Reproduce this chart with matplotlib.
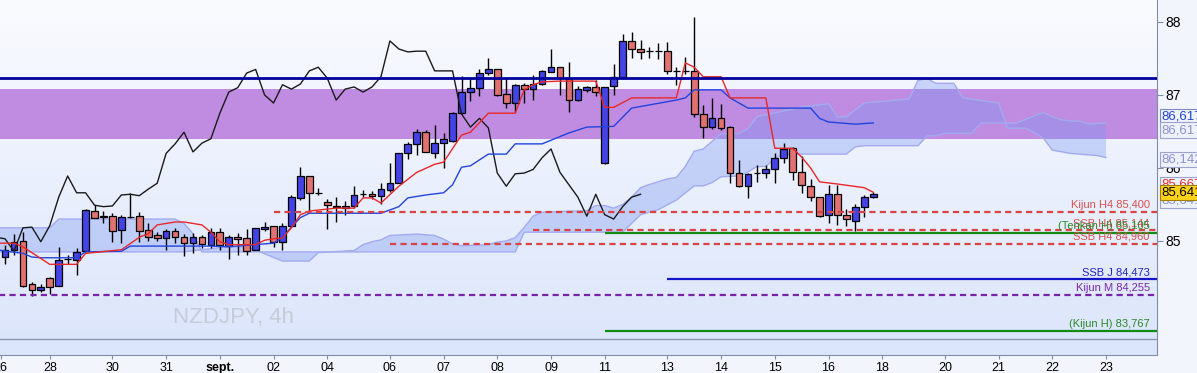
import numpy as np
import matplotlib.pyplot as plt
from matplotlib.transforms import blended_transform_factory

plt.rcParams['font.family'] = ['Liberation Sans', 'DejaVu Sans']

# NZDJPY 4h candles, bar 0 = 26 Aug, last bar = 16 Sept close
opens = [84.78, 84.88, 85.00, 84.41, 84.33, 84.49, 84.38, 84.75, 84.74, 84.86,
         85.41, 85.33, 85.34, 85.15, 85.33, 85.34, 85.15, 85.08, 85.04, 85.14,
         85.05, 84.97, 85.05, 84.95, 85.12, 84.93, 85.05, 85.04, 84.88, 85.16,
         85.21, 84.99, 85.21, 85.59, 85.89, 85.66, 85.53, 85.48, 85.45, 85.48,
         85.64, 85.64, 85.62, 85.70, 85.79, 86.20, 86.33, 86.49, 86.21, 86.34,
         86.37, 86.75, 87.04, 87.10, 87.30, 87.35, 87.01, 86.89, 87.14, 87.08,
         87.15, 87.31, 87.38, 87.23, 86.93, 87.07, 87.11, 86.07, 87.12, 87.25,
         87.74, 87.63, 87.60, 87.60, 87.60, 87.33, 87.33, 87.33, 86.74, 86.56,
         86.68, 86.56, 85.93, 85.75, 85.93, 85.93, 85.98, 86.14, 86.27, 85.94,
         85.75, 85.60, 85.36, 85.64, 85.36, 85.27, 85.47, 85.60]
highs = [84.95, 85.10, 85.12, 84.44, 84.41, 84.51, 84.92, 84.81, 84.90, 85.44,
         85.49, 85.41, 85.38, 85.36, 85.66, 85.40, 85.25, 85.12, 85.16, 85.18,
         85.10, 85.11, 85.08, 85.18, 85.18, 85.08, 85.11, 85.16, 85.18, 85.26,
         85.21, 85.25, 85.63, 86.01, 85.89, 85.73, 85.57, 85.60, 85.55, 85.75,
         85.70, 85.68, 85.79, 86.07, 86.20, 86.36, 86.53, 86.52, 86.59, 86.48,
         86.77, 87.26, 87.23, 87.35, 87.51, 87.35, 87.23, 87.15, 87.16, 87.27,
         87.34, 87.63, 87.38, 87.45, 87.12, 87.12, 87.20, 87.11, 87.42, 87.83,
         87.86, 87.75, 87.66, 87.71, 87.72, 87.38, 87.52, 88.07, 86.86, 86.96,
         86.88, 86.57, 86.11, 85.93, 86.04, 86.04, 86.20, 86.34, 86.29, 86.16,
         85.85, 85.60, 85.77, 85.77, 85.44, 85.51, 85.63, 85.67]
lows = [84.68, 84.81, 84.37, 84.25, 84.30, 84.27, 84.38, 84.68, 84.53, 84.86,
        85.32, 85.25, 84.99, 84.97, 85.32, 84.99, 85.00, 85.00, 84.88, 84.97,
        84.79, 84.83, 84.90, 84.90, 84.88, 84.75, 84.81, 84.81, 84.88, 85.14,
        84.92, 84.88, 85.21, 85.56, 85.40, 85.63, 85.16, 85.26, 85.36, 85.45,
        85.60, 85.57, 85.51, 85.67, 85.79, 86.12, 86.18, 86.22, 86.14, 86.00,
        86.36, 86.74, 86.92, 86.98, 87.27, 86.98, 86.82, 86.77, 86.89, 86.93,
        87.14, 87.31, 87.00, 86.77, 86.92, 87.04, 86.98, 86.05, 87.00, 87.23,
        87.51, 87.49, 87.51, 87.49, 87.29, 87.14, 87.29, 86.70, 86.41, 86.53,
        86.52, 85.79, 85.74, 85.59, 85.81, 85.86, 85.79, 86.07, 85.84, 85.66,
        85.55, 85.33, 85.25, 85.22, 85.21, 85.14, 85.33, 85.59]
closes = [84.88, 84.99, 84.38, 84.33, 84.37, 84.37, 84.74, 84.75, 84.85, 85.43,
          85.32, 85.34, 85.14, 85.33, 85.33, 85.14, 85.05, 85.04, 85.14, 85.05,
          84.97, 85.05, 84.96, 85.12, 84.95, 85.05, 85.03, 84.86, 85.18, 85.19,
          84.99, 85.21, 85.60, 85.89, 85.66, 85.66, 85.49, 85.47, 85.48, 85.63,
          85.64, 85.62, 85.71, 85.79, 86.20, 86.33, 86.49, 86.22, 86.34, 86.40,
          86.75, 87.04, 87.10, 87.30, 87.35, 87.00, 86.89, 87.14, 87.08, 87.15,
          87.33, 87.38, 87.23, 86.93, 87.08, 87.11, 87.04, 87.11, 87.25, 87.74,
          87.63, 87.59, 87.60, 87.60, 87.33, 87.33, 87.33, 86.74, 86.56, 86.68,
          86.55, 85.93, 85.75, 85.92, 85.93, 85.98, 86.14, 86.26, 85.94, 85.77,
          85.60, 85.34, 85.64, 85.36, 85.30, 85.47, 85.60, 85.64]

tenkan_bar = [-1, 1, 2, 5, 8, 9, 13, 15, 16, 17, 19, 20, 22, 23, 24, 25, 28, 29, 30, 31,
              32, 33, 34, 37, 39, 40, 41, 42, 44, 46, 48, 49, 51, 52, 54, 57, 58, 59, 60,
              62, 66, 67, 68, 70, 75, 76, 77, 78, 80, 81, 85, 86, 88, 89, 90, 91, 93, 96, 97]
tenkan_val = [84.97, 84.97, 84.92, 84.68, 84.68, 84.83, 84.88, 85.05, 85.10, 85.22, 85.26,
              85.26, 85.22, 85.12, 84.99, 84.95, 84.95, 85.01, 85.03, 85.04, 85.18, 85.36,
              85.41, 85.45, 85.45, 85.59, 85.59, 85.52, 85.75, 85.94, 86.05, 86.08, 86.45,
              86.49, 86.75, 86.75, 87.07, 87.14, 87.18, 87.19, 87.19, 86.83, 86.83, 86.96,
              86.96, 87.44, 87.38, 87.25, 87.25, 86.96, 86.96, 86.27, 86.27, 86.15, 86.00,
              85.81, 85.78, 85.73, 85.667]
kijun_bar = [-1, 2, 3, 4, 8, 9, 13, 14, 23, 25, 28, 30, 31, 32, 33, 34, 42, 44, 45, 47,
             49, 50, 51, 52, 54, 56, 57, 60, 61, 63, 65, 68, 70, 75, 76, 77, 80, 81, 83,
             90, 91, 92, 95, 97]
kijun_val = [84.88, 84.83, 84.78, 84.77, 84.77, 84.85, 84.86, 84.93, 84.93, 84.92, 84.95,
             84.97, 85.05, 85.19, 85.32, 85.38, 85.38, 85.47, 85.59, 85.63, 85.66, 85.77,
             86.01, 86.03, 86.19, 86.19, 86.33, 86.33, 86.38, 86.48, 86.56, 86.57, 86.82,
             86.93, 86.96, 87.07, 87.07, 86.96, 86.82, 86.82, 86.68, 86.63, 86.60, 86.617]
span_a_bar = [-1, 20, 25, 27, 28, 31, 34, 35, 39, 40, 41, 42, 43, 46, 48, 49, 50, 51, 54,
              55, 56, 57, 58, 59, 60, 65, 66, 67, 68, 69, 70, 71, 72, 74, 75, 76, 77, 78,
              80, 82, 83, 84, 86, 89, 92, 93, 94, 96, 101, 102, 103, 104, 106, 107, 111,
              112, 114, 115, 116, 117, 119, 122, 123]
span_a_val = [84.85, 84.85, 84.925, 84.915, 84.875, 84.725, 84.725, 84.84, 84.87, 84.95,
              84.99, 85.015, 85.075, 85.095, 85.075, 85.025, 84.96, 84.935, 84.95, 84.985,
              85.00, 85.045, 85.185, 85.34, 85.395, 85.415, 85.485, 85.485, 85.45, 85.50,
              85.60, 85.73, 85.775, 85.85, 85.87, 86.02, 86.23, 86.26, 86.47, 86.47, 86.54,
              86.70, 86.755, 86.835, 86.88, 86.70, 86.70, 86.89, 86.945, 87.20, 87.225,
              87.16, 87.16, 86.96, 86.89, 86.545, 86.545, 86.485, 86.41, 86.245, 86.20,
              86.17, 86.142]
span_b_bar = [-1, 5, 6, 19, 20, 21, 22, 57, 58, 69, 71, 73, 75, 77, 78, 79, 80, 82, 83,
              84, 85, 86, 87, 94, 95, 96, 102, 103, 104, 105, 108, 109, 113, 114, 115,
              116, 117, 118, 119, 120, 121, 123]
span_b_val = [85.18, 85.18, 85.30, 85.30, 85.24, 85.10, 84.85, 84.85, 85.12, 85.12, 85.36,
              85.43, 85.56, 85.755, 85.755, 85.80, 85.88, 85.89, 85.945, 86.02, 86.02,
              86.13, 86.19, 86.19, 86.29, 86.305, 86.305, 86.44, 86.44, 86.475, 86.475,
              86.615, 86.615, 86.665, 86.715, 86.76, 86.70, 86.66, 86.645, 86.64, 86.605,
              86.617]

# day ticks (bar index of each labelled day)
day_pos = [-0.5, 5, 12, 18, 24, 30, 36, 43, 49, 55, 61, 67, 74, 80, 86, 92, 98, 105, 111, 117, 123]
day_labels = ['26', '28', '30', '31', 'sept.', '02', '04', '06', '07', '08', '09', '11',
              '13', '14', '15', '16', '18', '20', '21', '22', '23']

# horizontal levels: name, price, first bar
level_names = ['Kijun H4 85,400', 'SSB H4 85,144', '(Tenkan H) 85,105', 'SSB H4 84,960',
               'SSB J 84,473', 'Kijun M 84,255', '(Kijun H) 83,767']
level_values = [85.400, 85.144, 85.105, 84.960, 84.473, 84.255, 83.767]
level_from = [30, 59, 67, 43, 74, -1, 67]
level_color = ['#d84343', '#d84343', '#138a13', '#d84343', '#1414c8', '#7a22aa', '#138a13']
level_text = ['#d85050', '#d85050', '#2a8a2a', '#d85050', '#2424c4', '#7a2aaa', '#2a8a2a']
level_dash = [True, True, False, True, False, True, False]

zone_low, zone_high = 86.40, 87.08
resistance = 87.233

XMIN, XMAX = -0.56, 128.7
YMIN, YMAX = 83.438, 88.301

fig = plt.figure(figsize=(11.97, 3.73), dpi=100, facecolor='#f3f5fc')
ax = fig.add_axes([0, 18 / 373, 1157 / 1197, 355 / 373])
ax.set_xlim(XMIN, XMAX)
ax.set_ylim(YMIN, YMAX)

# background gradient
grad = np.linspace(0, 1, 256).reshape(-1, 1)
top_c = np.array([250, 251, 255]) / 255
bot_c = np.array([219, 229, 251]) / 255
img = top_c * (1 - grad[..., None]) + bot_c * grad[..., None]
ax.imshow(img, extent=[0, 1, 0, 1], transform=ax.transAxes, aspect='auto', zorder=0)
ax.plot([0, 1], [16 / 355, 16 / 355], transform=ax.transAxes, color='#8a98b0', lw=1, zorder=1)

ax.axhspan(zone_low, zone_high, color='#c08ce2', zorder=1, lw=0)

# cloud
poly_x = span_a_bar + span_b_bar[::-1]
poly_y = span_a_val + span_b_val[::-1]
ax.fill(poly_x, poly_y, color='#7896f0', alpha=0.35, lw=0, zorder=2)
ax.plot(span_a_bar, span_a_val, color='#a3abf0', lw=1, zorder=2.5)
ax.plot(span_b_bar, span_b_val, color='#a3abf0', lw=1, zorder=2.5)

# candles
o = np.array(opens); h = np.array(highs); l = np.array(lows); c = np.array(closes)
idx = np.arange(len(o))
ax.vlines(idx, l, h, color='black', lw=1, zorder=3)
cols = np.where(c > o, '#4343e6', '#e27272')
ax.bar(idx, c - o, bottom=o, width=0.75, color=cols, edgecolor='black', linewidth=0.9, zorder=4)

# ichimoku lines
ax.plot(np.arange(-1, len(c) - 26), c[25:], color='#1a1a1a', lw=1, zorder=5)
ax.plot(kijun_bar, kijun_val, color='#2244dd', lw=1, zorder=5)
ax.plot(tenkan_bar, tenkan_val, color='#e82828', lw=1, zorder=5)

# levels
ax.axhline(resistance, color='#00009c', lw=2, zorder=5)
for name, val, start, lc, tc, dash in zip(level_names, level_values, level_from,
                                           level_color, level_text, level_dash):
    ls = (0, (2.8, 1.9)) if dash else '-'
    ax.hlines(val, start, XMAX, colors=lc, lw=1.6, linestyles=ls, zorder=5)
    ax.text(127.9, val + 0.03, name, color=tc, fontsize=8, ha='right', va='bottom', zorder=6)

ax.text(25.5, 83.95, 'NZDJPY, 4h', fontsize=16, color='#c6cbd8', ha='center', va='center', zorder=1)

# axes styling
for s in ['left', 'top']:
    ax.spines[s].set_visible(False)
for s in ['right', 'bottom']:
    ax.spines[s].set_color('#7f8ea6')
ax.yaxis.tick_right()
ax.set_yticks([85, 86, 87, 88])
ax.set_yticklabels(['85', '86', '87', '88'])
ax.tick_params(axis='y', length=4, color='#7f8ea6', labelsize=10, pad=2)
ax.set_xticks(day_pos)
ax.set_xticklabels(day_labels)
ax.tick_params(axis='x', length=3, color='#7f8ea6', labelsize=9, pad=2)
for t in ax.get_xticklabels():
    if t.get_text() == 'sept.':
        t.set_fontweight('bold')

# price tags on the right
tr = blended_transform_factory(ax.transAxes, ax.transData)
tags = [(86.70, '86,617', '#2244cc', '#eef2fc', '#7d8cc0'),
        (86.52, '86,617', '#8d92d0', '#eef2fc', '#9aa4cc'),
        (86.12, '86,142', '#8d92d0', '#eef2fc', '#9aa4cc'),
        (85.56, '85,641', '#8d92d0', '#eef2fc', '#9aa4cc'),
        (85.77, '85,667', '#e03030', '#eef2fc', '#9aa4cc'),
        (85.66, '85,641', '#000000', '#ffd21a', '#a08000')]
for y, txt, tc, fc, ec in tags:
    ax.text(1.004, y, txt, transform=tr, color=tc, fontsize=9.5, ha='left', va='center',
            clip_on=False, zorder=7,
            bbox=dict(boxstyle='square,pad=0.12', fc=fc, ec=ec, lw=0.8))

fig.savefig('out.png', dpi=100, facecolor=fig.get_facecolor())
